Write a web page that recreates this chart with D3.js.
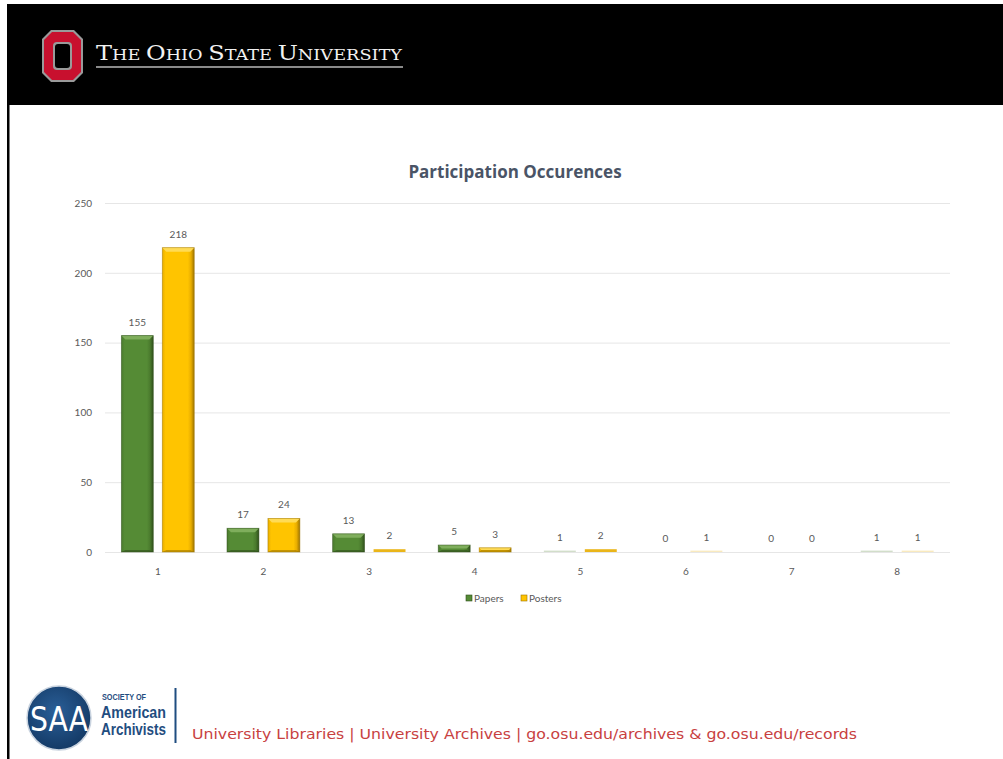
<!DOCTYPE html>
<html>
<head>
<meta charset="utf-8">
<script src="https://cdn.jsdelivr.net/npm/d3@7"></script>
<style>
  html, body { margin: 0; padding: 0; background: #ffffff; }
  svg { display: block; }
</style>
</head>
<body>
<svg id="slide" width="1003" height="759"></svg>
<script>
// Participation occurrences by count, papers vs posters
const categories = ["1", "2", "3", "4", "5", "6", "7", "8"];
const seriesNames = ["Papers", "Posters"];
const papers = [155, 17, 13, 5, 1, 0, 0, 1];
const posters = [218, 24, 2, 3, 2, 1, 0, 1];
const yTicks = [0, 50, 100, 150, 200, 250];
const chartTitle = "Participation  Occurences";
const footerText = "University Libraries | University Archives | go.osu.edu/archives & go.osu.edu/records";

const svg = d3.select("#slide");
const defs = svg.append("defs");

// ---------- slide frame ----------
svg.append("rect").attr("x", 0).attr("y", 0).attr("width", 1003).attr("height", 759).attr("fill", "#fff");
svg.append("rect").attr("x", 7).attr("y", 4).attr("width", 996).attr("height", 101).attr("fill", "#000");
svg.append("rect").attr("x", 7).attr("y", 104).attr("width", 2.5).attr("height", 655).attr("fill", "#000");

// ---------- OSU block O ----------
const blockO = svg.append("g").attr("transform", "translate(42,30)");
const oct = (w, h, c) => `M${c},0 L${w - c},0 L${w},${c} L${w},${h - c} L${w - c},${h} L${c},${h} L0,${h - c} L0,${c} Z`;
blockO.append("path").attr("d", oct(41, 52, 9)).attr("fill", "#9a9a9a");
blockO.append("path").attr("transform", "translate(2,2)").attr("d", oct(37, 48, 8)).attr("fill", "#c8102e");
blockO.append("rect").attr("x", 11).attr("y", 12).attr("width", 19).attr("height", 28).attr("rx", 4)
  .attr("fill", "#9a9a9a");
blockO.append("rect").attr("x", 13).attr("y", 14).attr("width", 15).attr("height", 24).attr("rx", 3)
  .attr("fill", "#000");

// wordmark in small caps
const wm = svg.append("text").attr("x", 96).attr("y", 60)
  .attr("font-family", "'DejaVu Serif', 'Liberation Serif', serif").attr("font-weight", "normal")
  .attr("fill", "#f2f2f2").attr("textLength", 306).attr("lengthAdjust", "spacingAndGlyphs");
const wmParts = [["T", 21], ["HE ", 15.5], ["O", 21], ["HIO ", 15.5], ["S", 21], ["TATE ", 15.5], ["U", 21], ["NIVERSITY", 15.5]];
wmParts.forEach(([t, s]) => wm.append("tspan").attr("font-size", s).text(t));
svg.append("rect").attr("x", 96).attr("y", 66).attr("width", 307).attr("height", 2).attr("fill", "#8a8a8a");

// ---------- chart ----------
const plotLeft = 105, plotRight = 950, plotTop = 203, plotBottom = 552;

const x0 = d3.scaleBand().domain(categories).range([plotLeft, plotRight]).paddingInner(0.31).paddingOuter(0.155);
const x1 = d3.scaleBand().domain(seriesNames).range([0, x0.bandwidth()]).paddingInner(0.22);
const y = d3.scaleLinear().domain([0, 250]).range([plotBottom, plotTop]);

const chartFont = "Lato, 'Open Sans', sans-serif";
const labelColor = "#595959";

svg.append("text").attr("x", 515).attr("y", 178).attr("text-anchor", "middle")
  .attr("font-family", "'Open Sans', Lato, sans-serif").attr("font-weight", "bold").attr("font-size", 17)
  .attr("fill", "#4a5466").text(chartTitle);

// gridlines + y labels
const yAxis = d3.axisLeft(y).tickValues(yTicks).tickSize(-(plotRight - plotLeft)).tickPadding(13);
const yg = svg.append("g").attr("transform", `translate(${plotLeft},0)`).call(yAxis);
yg.select(".domain").remove();
yg.selectAll(".tick line").attr("stroke", "#e6e6e6").attr("stroke-width", 1);
yg.selectAll(".tick text").attr("font-family", chartFont).attr("font-size", 10).attr("fill", labelColor);

// x category labels
const xAxis = d3.axisBottom(x0).tickSize(0).tickPadding(16);
const xg = svg.append("g").attr("transform", `translate(0,${plotBottom})`).call(xAxis);
xg.select(".domain").remove();
xg.selectAll(".tick text").attr("font-family", chartFont).attr("font-size", 10).attr("fill", labelColor);

// bevelled bar fills
const palettes = {
  Papers: { base: "#558b35", dark: "#2f4f1b", mid: "#4a7a2d", light: "#7fae5c" },
  Posters: { base: "#ffc400", dark: "#9c7400", mid: "#e8ad00", light: "#ffdb55" }
};
seriesNames.forEach(name => {
  const p = palettes[name];
  const g = defs.append("linearGradient").attr("id", "grad-" + name).attr("x1", 0).attr("x2", 1).attr("y1", 0).attr("y2", 0);
  [[0, p.mid], [0.1, p.base], [0.8, p.base], [0.9, p.mid], [1, p.dark]].forEach(([o, c]) =>
    g.append("stop").attr("offset", o).attr("stop-color", c));
});

const rows = categories.map((c, i) => ({ cat: c, values: [
  { series: "Papers", value: papers[i] },
  { series: "Posters", value: posters[i] }
]}));

const groups = svg.append("g").selectAll("g").data(rows).join("g")
  .attr("transform", d => `translate(${x0(d.cat)},0)`);

const bars = groups.selectAll("g.bar").data(d => d.values).join("g").attr("class", "bar");

bars.each(function (d) {
  const g = d3.select(this);
  const bx = x1(d.series), bw = x1.bandwidth();
  const top = y(d.value), h = plotBottom - top;
  const p = palettes[d.series];
  if (h <= 0) return;
  if (h < 3) {
    // very short bars collapse to a thin floor line
    g.append("rect").attr("x", bx).attr("y", plotBottom - h).attr("width", bw).attr("height", h)
      .attr("fill", p.mid).attr("opacity", h < 2 ? 0.25 : 0.9);
    return;
  }
  g.append("rect").attr("x", bx).attr("y", top).attr("width", bw).attr("height", h)
    .attr("fill", `url(#grad-${d.series})`);
  const bev = Math.min(4, h / 2);
  g.append("path")
    .attr("d", `M${bx},${top} L${bx + bw},${top} L${bx + bw - bev},${top + bev} L${bx + bev},${top + bev} Z`)
    .attr("fill", p.light);
  g.append("path")
    .attr("d", `M${bx},${top + h} L${bx + bw},${top + h} L${bx + bw - bev},${top + h - Math.min(2, bev)} L${bx + bev},${top + h - Math.min(2, bev)} Z`)
    .attr("fill", p.dark).attr("opacity", 0.6);
  g.append("rect").attr("x", bx).attr("y", top).attr("width", bw).attr("height", h)
    .attr("fill", "none").attr("stroke", p.dark).attr("stroke-width", 0.8).attr("stroke-opacity", 0.6);
});

// value labels
bars.append("text")
  .attr("x", d => x1(d.series) + x1.bandwidth() / 2)
  .attr("y", d => y(d.value) - 10)
  .attr("text-anchor", "middle")
  .attr("font-family", chartFont).attr("font-size", 10).attr("fill", labelColor)
  .text(d => d.value);

// legend
const legend = svg.append("g").attr("transform", "translate(466,598)");
const legendX = [0, 55];
seriesNames.forEach((name, i) => {
  const lg = legend.append("g").attr("transform", `translate(${legendX[i]},0)`);
  lg.append("rect").attr("x", 0).attr("y", -3).attr("width", 6).attr("height", 6).attr("fill", palettes[name].base)
    .attr("stroke", palettes[name].dark).attr("stroke-width", 0.6);
  lg.append("text").attr("x", 8).attr("y", 3.5).attr("font-family", chartFont).attr("font-size", 10)
    .attr("fill", labelColor).text(name);
});

// ---------- footer ----------
const saaBlue = "#1f4d80";
const rg = defs.append("radialGradient").attr("id", "saaGrad").attr("cx", 0.45).attr("cy", 0.4).attr("r", 0.6);
rg.append("stop").attr("offset", 0).attr("stop-color", "#2a5f98");
rg.append("stop").attr("offset", 1).attr("stop-color", "#143a66");
svg.append("circle").attr("cx", 59).attr("cy", 718).attr("r", 32).attr("fill", "url(#saaGrad)")
  .attr("stroke", "#c9d3df").attr("stroke-width", 1.5);
svg.append("text").attr("x", 59).attr("y", 731).attr("text-anchor", "middle")
  .attr("font-family", "'DejaVu Sans', sans-serif").attr("font-size", 34).attr("fill", "#fff")
  .attr("textLength", 58).attr("lengthAdjust", "spacingAndGlyphs").text("SAA");

const saaFont = "'Liberation Sans Narrow', 'Liberation Sans', Arial, sans-serif";
svg.append("text").attr("x", 102).attr("y", 700).attr("font-family", saaFont).attr("font-weight", "bold")
  .attr("font-size", 9).attr("fill", saaBlue).attr("textLength", 44).attr("lengthAdjust", "spacingAndGlyphs")
  .text("SOCIETY OF");
svg.append("text").attr("x", 101).attr("y", 718).attr("font-family", saaFont).attr("font-weight", "bold")
  .attr("font-size", 17).attr("fill", saaBlue).attr("textLength", 65).attr("lengthAdjust", "spacingAndGlyphs")
  .text("American");
svg.append("text").attr("x", 101).attr("y", 735).attr("font-family", saaFont).attr("font-weight", "bold")
  .attr("font-size", 17).attr("fill", saaBlue).attr("textLength", 65).attr("lengthAdjust", "spacingAndGlyphs")
  .text("Archivists");
svg.append("rect").attr("x", 174.5).attr("y", 688).attr("width", 2).attr("height", 55).attr("fill", saaBlue);

svg.append("text").attr("x", 192).attr("y", 739)
  .attr("font-family", "'DejaVu Sans', Verdana, sans-serif").attr("font-size", 14.5).attr("fill", "#c8413f")
  .attr("textLength", 665).attr("lengthAdjust", "spacingAndGlyphs").text(footerText);
</script>
</body>
</html>
